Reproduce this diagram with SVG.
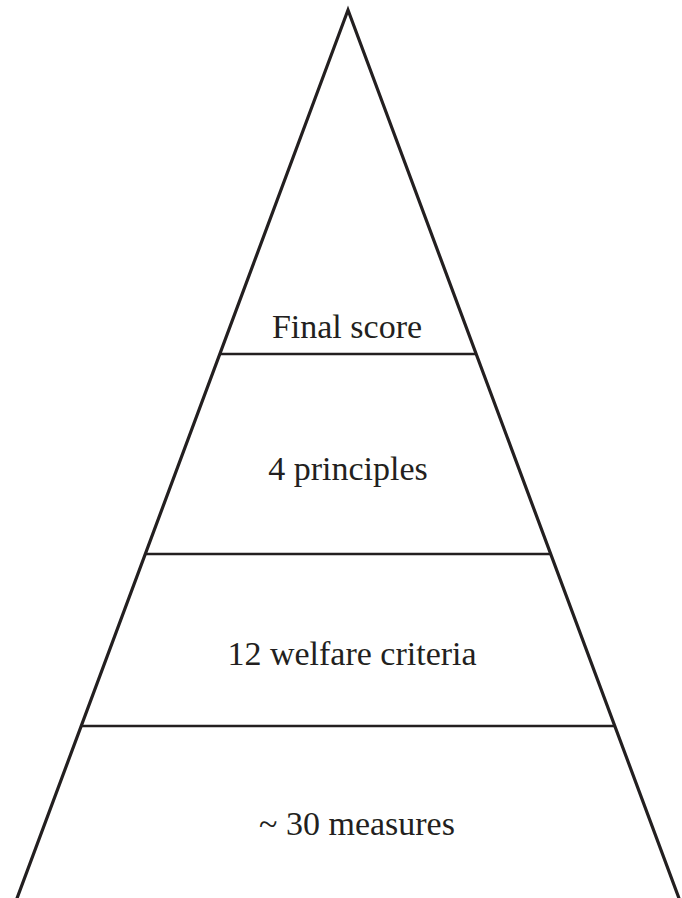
<svg xmlns="http://www.w3.org/2000/svg" width="682" height="898" viewBox="0 0 682 898">
  <style>
    .side { fill: none; stroke: #231f20; stroke-width: 3.2; stroke-linejoin: miter; }
    .tier { stroke: #231f20; stroke-width: 2.6; }
    .label { font-family: "Liberation Serif", "Times New Roman", serif; font-size: 34px; fill: #231f20; text-anchor: middle; }
  </style>
  <rect width="682" height="898" fill="#ffffff"/>
  <!-- pyramid outline -->
  <g id="pyramid">
    <polyline class="side" points="16,901 348,10 680,901"/>
  </g>
  <!-- tier dividers -->
  <g id="dividers">
    <line class="tier" x1="220" y1="354" x2="477" y2="354"/>
    <line class="tier" x1="146" y1="554" x2="550" y2="554"/>
    <line class="tier" x1="81" y1="726" x2="614" y2="726"/>
  </g>
  <g id="tier-final-score">
    <text class="label" x="347" y="338">Final score</text>
  </g>
  <g id="tier-principles">
    <text class="label" x="348" y="480">4 principles</text>
  </g>
  <g id="tier-criteria">
    <text class="label" x="352" y="665">12 welfare criteria</text>
  </g>
  <g id="tier-measures">
    <text class="label" x="357" y="835">~ 30 measures</text>
  </g>
</svg>
